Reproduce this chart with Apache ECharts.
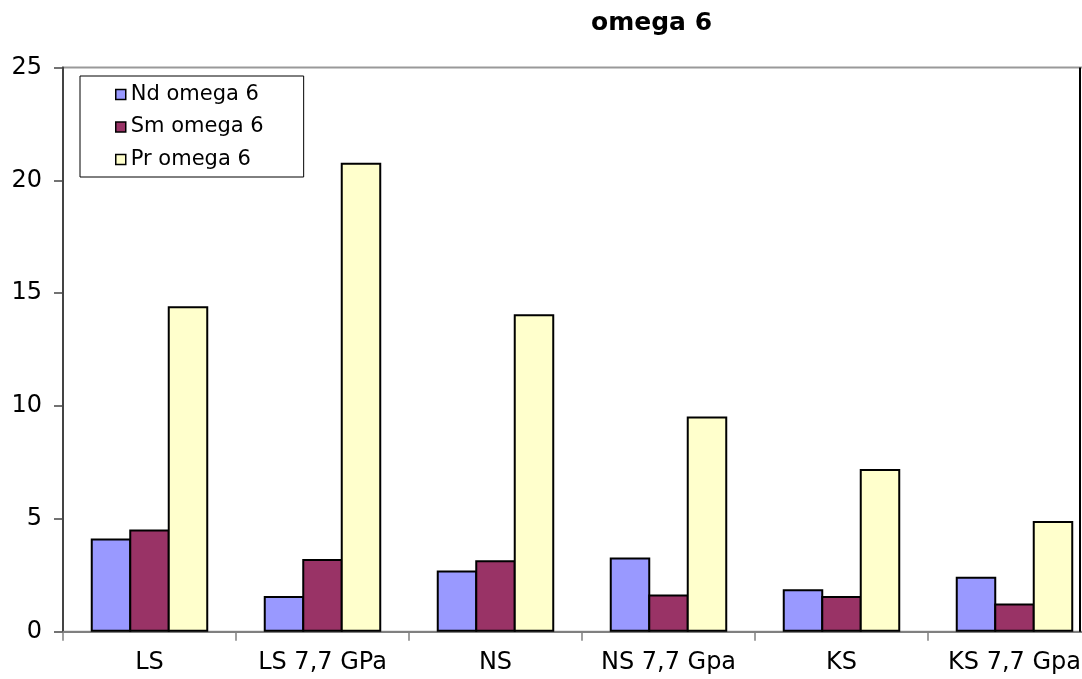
<!DOCTYPE html>
<html>
<head>
<meta charset="utf-8">
<title>omega 6</title>
<script src="https://cdn.jsdelivr.net/npm/echarts@6/dist/echarts.min.js"></script>
<style>
  html, body { margin: 0; padding: 0; background: #fff; }
  #chart { width: 1082px; height: 679px; }
</style>
</head>
<body>
<div id="chart"></div>
<script>
// data
const categories = ['LS', 'LS 7,7 GPa', 'NS', 'NS 7,7 Gpa', 'KS', 'KS 7,7 Gpa']
const ndOmega6 = [4.13, 1.58, 2.71, 3.29, 1.88, 2.44]
const smOmega6 = [4.53, 3.22, 3.17, 1.65, 1.58, 1.25]
const prOmega6 = [14.42, 20.78, 14.07, 9.54, 7.21, 4.91]
const yTicks = [0, 5, 10, 15, 20, 25]

const font = 'DejaVu Sans'
// echarts shrinks a bordered bar by its border width, so widen a bit and overlap
const barWidth = 40.5
const barGap = '-4.94%'
const barBorder = { borderColor: '#000', borderWidth: 2 }

const chart = echarts.init(document.getElementById('chart'))

function makeSeries(name, data, color) {
  return {
    name: name,
    type: 'bar',
    barWidth: barWidth,
    barGap: barGap,
    data: data,
    itemStyle: Object.assign({ color: color }, barBorder),
    emphasis: { disabled: true }
  }
}

chart.setOption({
  animation: false,
  backgroundColor: '#fff',
  title: {
    text: 'omega 6',
    left: 586,
    top: 6,
    textStyle: {
      fontFamily: font,
      fontWeight: 'bold',
      fontSize: 25,
      color: '#000'
    }
  },
  legend: {
    orient: 'vertical',
    left: 80,
    top: 76,
    padding: [8, 40, 7, 35],
    itemGap: 11.5,
    itemWidth: 10,
    itemHeight: 10,
    icon: 'rect',
    borderColor: '#000',
    borderWidth: 1,
    backgroundColor: '#fff',
    itemStyle: { borderColor: '#000', borderWidth: 1.5 },
    textStyle: {
      fontFamily: font,
      fontSize: 21,
      color: '#000'
    },
    data: ['Nd omega 6', 'Sm omega 6', 'Pr omega 6']
  },
  grid: {
    left: 63,
    top: 67.5,
    bottom: 47.3,
    width: 1038,
    containLabel: false,
    outerBoundsMode: 'none',
    show: true,
    borderColor: '#999',
    borderWidth: 2,
    backgroundColor: 'transparent'
  },
  xAxis: {
    type: 'category',
    data: categories,
    boundaryGap: true,
    axisLine: { lineStyle: { color: '#808080', width: 2 } },
    axisTick: {
      show: true,
      length: 9,
      interval: 0,
      lineStyle: { color: '#808080', width: 1.5 }
    },
    axisLabel: {
      interval: 0,
      margin: 19,
      fontFamily: font,
      fontSize: 24,
      color: '#000'
    },
    splitLine: { show: false }
  },
  yAxis: {
    type: 'value',
    min: yTicks[0],
    max: yTicks[yTicks.length - 1],
    interval: 5,
    axisLine: { show: true, lineStyle: { color: '#444', width: 2 } },
    axisTick: {
      show: true,
      length: 9,
      lineStyle: { color: '#444', width: 1.5 }
    },
    axisLabel: {
      margin: 21,
      fontFamily: font,
      fontSize: 24,
      color: '#000'
    },
    splitLine: { show: false }
  },
  graphic: [
    {
      type: 'line',
      shape: { x1: 1080, y1: 67.5, x2: 1080, y2: 631.7 },
      style: { stroke: '#000', lineWidth: 2 },
      z: 10
    }
  ],
  series: [
    makeSeries('Nd omega 6', ndOmega6, '#9999FF'),
    makeSeries('Sm omega 6', smOmega6, '#993366'),
    makeSeries('Pr omega 6', prOmega6, '#FFFFCC')
  ]
})
</script>
</body>
</html>
